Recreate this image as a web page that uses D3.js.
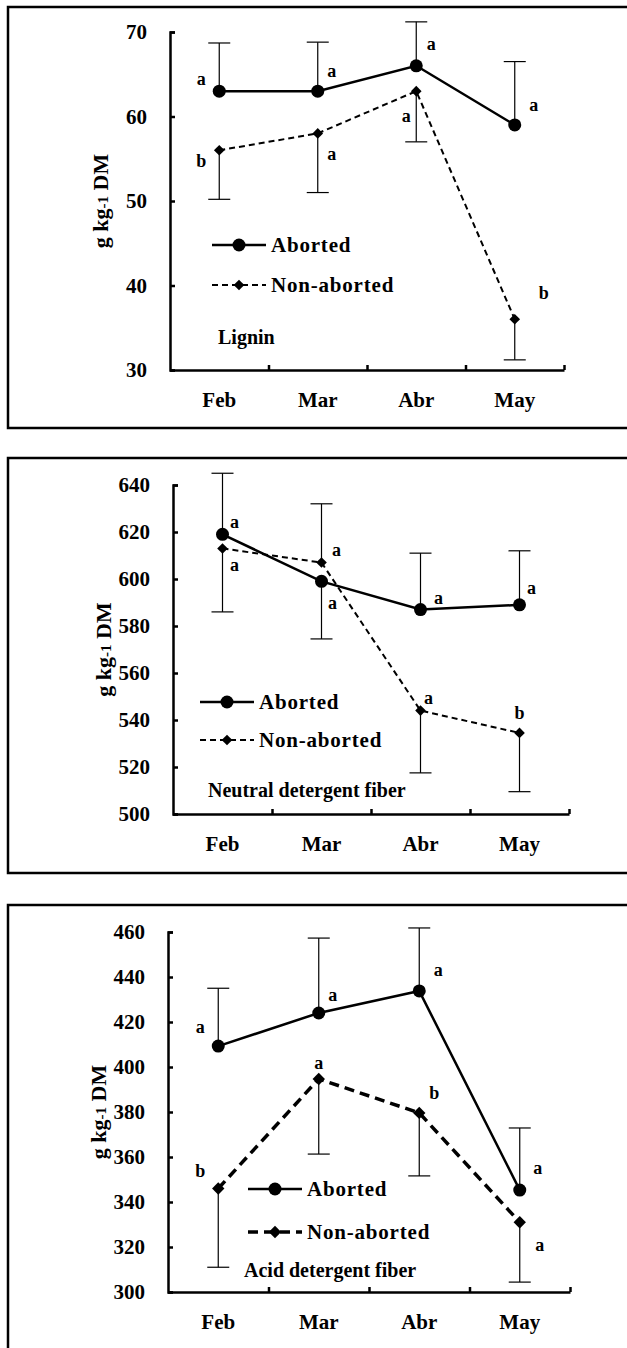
<!DOCTYPE html>
<html>
<head>
<meta charset="utf-8">
<script src="https://cdnjs.cloudflare.com/ajax/libs/d3/7.8.5/d3.min.js"></script>
<style>
body { margin: 0; background: #fff; }
text { font-family: "Liberation Serif", Tinos, "Times New Roman", "DejaVu Serif", serif; font-weight: bold; fill: #000; }
</style>
</head>
<body>
<script>
var months = ["Feb", "Mar", "Abr", "May"];

// Lignin
var ligninTicks = [30, 40, 50, 60, 70];
var ligninAborted = [63, 63, 66, 59];
var ligninNonAborted = [56, 58, 63, 36];
var ligninAbortedUp = [5.7, 5.8, 5.2, 7.5];
var ligninAbortedDown = [0, 0, 0, 0];
var ligninNonUp = [0, 0, 0, 0];
var ligninNonDown = [5.8, 7, 6, 4.8];
var ligninAbortedLetters = ["a", "a", "a", "a"];
var ligninNonLetters = ["b", "a", "a", "b"];

// Neutral detergent fiber
var ndfTicks = [500, 520, 540, 560, 580, 600, 620, 640];
var ndfAborted = [619, 599, 587, 589];
var ndfNonAborted = [613, 607, 544, 534.5];
var ndfAbortedUp = [26, 0, 24, 23];
var ndfAbortedDown = [0, 24.5, 0, 0];
var ndfNonUp = [0, 25, 0, 0];
var ndfNonDown = [27, 0, 26.5, 25];
var ndfAbortedLetters = ["a", "a", "a", "a"];
var ndfNonLetters = ["a", "a", "a", "b"];

// Acid detergent fiber
var adfTicks = [300, 320, 340, 360, 380, 400, 420, 440, 460];
var adfAborted = [409.3, 424, 433.8, 345.3];
var adfNonAborted = [346, 394.7, 379.6, 331];
var adfAbortedUp = [25.7, 33.3, 28, 27.6];
var adfAbortedDown = [0, 0, 0, 0];
var adfNonUp = [0, 0, 0, 0];
var adfNonDown = [35, 33.4, 28, 26.6];
var adfAbortedLetters = ["a", "a", "a", "a"];
var adfNonLetters = ["b", "a", "b", "a"];

var W = 627, H = 1348;
var FONT = '"Liberation Serif", Tinos, "Times New Roman", "DejaVu Serif", serif';
var svg = d3.select("body").append("svg").attr("width", W).attr("height", H);

var panels = [
  {title: "Lignin", ticks: ligninTicks, ab: ligninAborted, non: ligninNonAborted,
   abUp: ligninAbortedUp, abDown: ligninAbortedDown, nonUp: ligninNonUp, nonDown: ligninNonDown,
   abL: ligninAbortedLetters, nonL: ligninNonLetters,
   box: [7, 428], x0: 170, x1: 564, yTop: 32, yBot: 370,
   abOff: [[-18,-12],[14,-20],[15,-22],[19,-20]],
   nonOff: [[-18,11],[14,21],[-10,25],[29,-26]],
   leg: [212, 245, 285], titlePos: [218, 337], dash: "6,4", dashW: 2, diam: 6},
  {title: "Neutral detergent fiber", ticks: ndfTicks, ab: ndfAborted, non: ndfNonAborted,
   abUp: ndfAbortedUp, abDown: ndfAbortedDown, nonUp: ndfNonUp, nonDown: ndfNonDown,
   abL: ndfAbortedLetters, nonL: ndfNonLetters,
   box: [458, 873], x0: 173, x1: 569, yTop: 485, yBot: 814,
   abOff: [[12,-12],[11,22],[18,-12],[12,-17]],
   nonOff: [[12,17],[15,-13],[8,-13],[0,-20]],
   leg: [200, 702, 740], titlePos: [208, 790], dash: "6,4", dashW: 2, diam: 6},
  {title: "Acid detergent fiber", ticks: adfTicks, ab: adfAborted, non: adfNonAborted,
   abUp: adfAbortedUp, abDown: adfAbortedDown, nonUp: adfNonUp, nonDown: adfNonDown,
   abL: adfAbortedLetters, nonL: adfNonLetters,
   box: [905, null], x0: 168, x1: 570, yTop: 932, yBot: 1292,
   abOff: [[-18,-19],[14,-18],[19,-21],[18,-22]],
   nonOff: [[-18,-18],[0,-16],[15,-20],[20,23]],
   leg: [248, 1189, 1232], titlePos: [244, 1270], dash: "10,6", dashW: 3.5, diam: 7}
];

panels.forEach(function(p) {
  var g = svg.append("g");

  // frame: left, top, bottom (right side runs off the image)
  var frame = "M" + W + "," + p.box[0] + "H8V" + (p.box[1] === null ? H : p.box[1]);
  if (p.box[1] !== null) frame += "H" + W;
  g.append("path").attr("d", frame).attr("fill", "none").attr("stroke", "#000").attr("stroke-width", 2.5);

  var x = d3.scaleBand().domain(months).range([p.x0, p.x1]);
  var xEdge = d3.scaleLinear().domain([0, 4]).range([p.x0, p.x1]);
  var y = d3.scaleLinear().domain([p.ticks[0], p.ticks[p.ticks.length - 1]]).range([p.yBot, p.yTop]);

  // y axis
  var ya = g.append("g").attr("transform", "translate(" + p.x0 + ",0)")
    .call(d3.axisLeft(y).tickValues(p.ticks).tickFormat(d3.format("d"))
      .tickSizeInner(-5).tickSizeOuter(-5).tickPadding(23));
  ya.attr("font-family", FONT);
  ya.selectAll("path, line").attr("stroke", "#000").attr("stroke-width", 2.5);
  ya.selectAll("text").style("font-size", "21px");

  // x axis ticks at category edges
  var xa = g.append("g").attr("transform", "translate(0," + p.yBot + ")")
    .call(d3.axisBottom(xEdge).tickValues([1, 2, 3, 4]).tickFormat("")
      .tickSizeInner(-5).tickSizeOuter(0));
  xa.selectAll("path, line").attr("stroke", "#000").attr("stroke-width", 2.5);

  // x labels
  var xl = g.append("g").attr("transform", "translate(0," + p.yBot + ")")
    .call(d3.axisBottom(x).tickSize(0).tickPadding(22));
  xl.attr("font-family", FONT);
  xl.select(".domain").remove();
  xl.selectAll("text").style("font-size", "21px");

  // y title
  var yt = g.append("text")
    .attr("transform", "translate(" + (p.x0 - 70) + "," + ((p.yTop + p.yBot) / 2) + ") rotate(-90)")
    .attr("text-anchor", "middle").attr("dominant-baseline", "central")
    .style("font-size", "22px");
  yt.append("tspan").text("g kg");
  yt.append("tspan").text("-1").style("font-size", "15px").attr("dy", 3);
  yt.append("tspan").text(" DM").attr("dy", -3);

  var cx = function(d, i) { return x(months[i]) + x.bandwidth() / 2; };

  // error bars
  function errBars(vals, up, down) {
    vals.forEach(function(v, i) {
      var xc = x(months[i]) + x.bandwidth() / 2;
      [[up[i], 1], [down[i], -1]].forEach(function(e) {
        if (!e[0]) return;
        var ye = y(v + e[1] * e[0]);
        g.append("line").attr("x1", xc).attr("x2", xc).attr("y1", y(v)).attr("y2", ye)
          .attr("stroke", "#000").attr("stroke-width", 1.2);
        g.append("line").attr("x1", xc - 11).attr("x2", xc + 11).attr("y1", ye).attr("y2", ye)
          .attr("stroke", "#000").attr("stroke-width", 1.2);
      });
    });
  }
  errBars(p.ab, p.abUp, p.abDown);
  errBars(p.non, p.nonUp, p.nonDown);

  var line = d3.line().x(cx).y(function(d) { return y(d); });

  g.append("path").datum(p.non).attr("d", line).attr("fill", "none")
    .attr("stroke", "#000").attr("stroke-width", p.dashW).attr("stroke-dasharray", p.dash);
  g.append("path").datum(p.ab).attr("d", line).attr("fill", "none")
    .attr("stroke", "#000").attr("stroke-width", 2.5);

  var diamond = d3.symbol().type(d3.symbolDiamond2).size(p.diam * p.diam * 2);
  g.selectAll(".dia").data(p.non).enter().append("path")
    .attr("transform", function(d, i) { return "translate(" + cx(d, i) + "," + y(d) + ")"; })
    .attr("d", diamond).attr("fill", "#000");
  g.selectAll(".dot").data(p.ab).enter().append("circle")
    .attr("cx", cx).attr("cy", function(d) { return y(d); }).attr("r", 6.5).attr("fill", "#000");

  // significance letters
  function letters(vals, ls, off) {
    g.selectAll(null).data(vals).enter().append("text")
      .attr("x", function(d, i) { return cx(d, i) + off[i][0]; })
      .attr("y", function(d, i) { return y(d) + off[i][1]; })
      .attr("text-anchor", "middle").attr("dominant-baseline", "central")
      .style("font-size", "18px")
      .text(function(d, i) { return ls[i]; });
  }
  letters(p.ab, p.abL, p.abOff);
  letters(p.non, p.nonL, p.nonOff);

  // legend
  var lx = p.leg[0];
  g.append("line").attr("x1", lx).attr("x2", lx + 54).attr("y1", p.leg[1]).attr("y2", p.leg[1])
    .attr("stroke", "#000").attr("stroke-width", 2.5);
  g.append("circle").attr("cx", lx + 27).attr("cy", p.leg[1]).attr("r", 6.5).attr("fill", "#000");
  g.append("line").attr("x1", lx).attr("x2", lx + 54).attr("y1", p.leg[2]).attr("y2", p.leg[2])
    .attr("stroke", "#000").attr("stroke-width", p.dashW).attr("stroke-dasharray", p.dash);
  g.append("path").attr("transform", "translate(" + (lx + 27) + "," + p.leg[2] + ")")
    .attr("d", diamond).attr("fill", "#000");
  g.append("text").attr("x", lx + 59).attr("y", p.leg[1]).attr("dominant-baseline", "central")
    .style("font-size", "21px").style("letter-spacing", "0.8px").text("Aborted");
  g.append("text").attr("x", lx + 59).attr("y", p.leg[2]).attr("dominant-baseline", "central")
    .style("font-size", "21px").style("letter-spacing", "0.8px").text("Non-aborted");

  g.append("text").attr("x", p.titlePos[0]).attr("y", p.titlePos[1]).attr("dominant-baseline", "central")
    .style("font-size", "20px").text(p.title);
});
</script>
</body>
</html>
